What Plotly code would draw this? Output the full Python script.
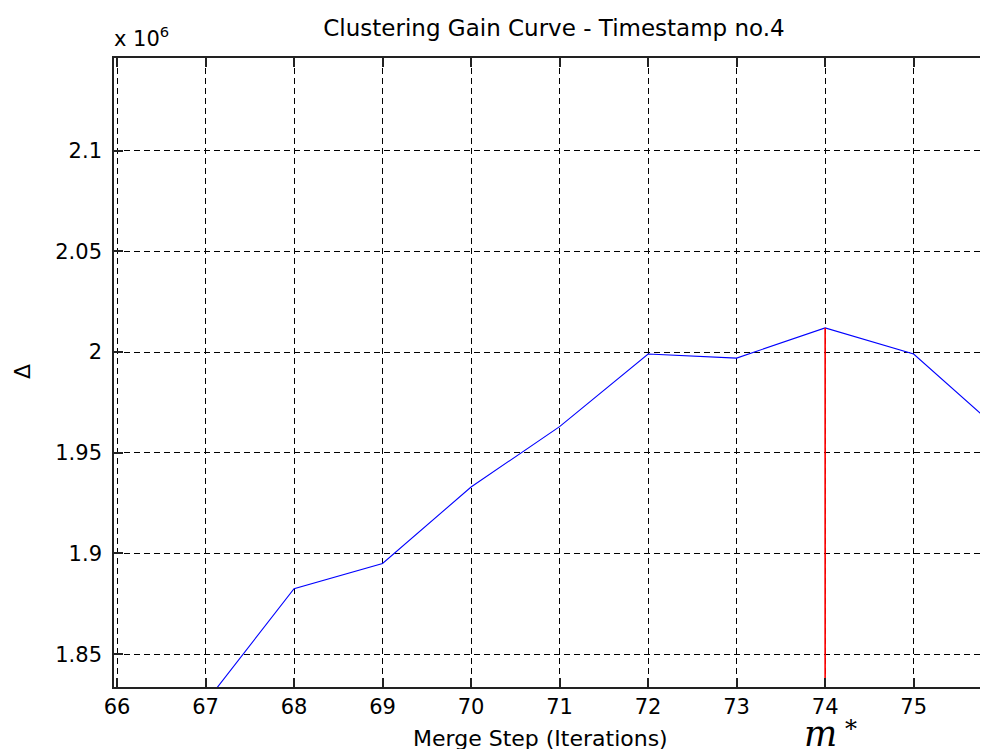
import plotly.graph_objects as go

steps = [67, 68, 69, 70, 71, 72, 73, 74, 75, 76]
gain = [1.826, 1.8825, 1.895, 1.933, 1.963, 1.999, 1.997, 2.012, 1.999, 1.960]  # x 10^6
best_step = 74
best_gain = 2.012
x_ticks = [66, 67, 68, 69, 70, 71, 72, 73, 74, 75]
y_ticks = [1.85, 1.9, 1.95, 2.0, 2.05, 2.1]
y_tick_text = ["1.85", "1.9", "1.95", "2", "2.05", "2.1"]

x_range = [65.966, 75.84]
y_range = [1.8337, 2.146]

font = "DejaVu Sans, Arial, sans-serif"
W, H = 980, 741
L, T, B = 106, 50, 62

fig = go.Figure()
fig.add_trace(go.Scatter(x=steps, y=gain, mode="lines",
                         line=dict(color="#0000ff", width=1.1), showlegend=False))
fig.add_trace(go.Scatter(x=[best_step, best_step], y=[1.80, best_gain], mode="lines",
                         line=dict(color="#ff0000", width=1.6), showlegend=False))
fig.add_trace(go.Scatter(x=[best_step], y=[best_gain], xaxis="x2", mode="markers",
                         marker=dict(opacity=0), showlegend=False, hoverinfo="skip"))

axis_common = dict(showline=True, linecolor="#222222", linewidth=1.6,
                   ticks="inside", ticklen=9, tickcolor="#222222", tickwidth=1.6,
                   showgrid=True, gridcolor="black", gridwidth=1.2, griddash="6px,4px",
                   zeroline=False,
                   tickfont=dict(family=font, size=21, color="black"))

fig.update_layout(
    width=W, height=H,
    margin=dict(l=L, r=0, t=T, b=B),
    paper_bgcolor="white", plot_bgcolor="white",
    title=dict(text="Clustering Gain Curve - Timestamp no.4", xref="container",
               x=546 / W, xanchor="center", y=1 - 20 / H, yanchor="middle",
               font=dict(family=font, size=23, color="black")),
    xaxis=dict(range=x_range, tickvals=x_ticks, ticktext=[str(v) for v in x_ticks],
               ticklabelstandoff=0, **axis_common),
    xaxis2=dict(range=x_range, overlaying="x", side="top", tickvals=x_ticks,
                showticklabels=False, showline=True, linecolor="#222222", linewidth=1.6,
                ticks="inside", ticklen=9, tickcolor="#222222", tickwidth=1.6,
                showgrid=False, zeroline=False),
    yaxis=dict(range=y_range, tickvals=y_ticks, ticktext=y_tick_text,
               ticklabelstandoff=6, **axis_common),
    annotations=[
        dict(text="x 10<sup>6</sup>", xref="paper", yref="paper", x=0, y=1, xanchor="left",
             yanchor="bottom", yshift=5, xshift=-2, showarrow=False,
             font=dict(family=font, size=21, color="black")),
        dict(text="Δ", xref="paper", yref="paper", x=0, y=(687 - 372) / 629,
             xanchor="center", yanchor="middle", xshift=-(114 - 22), textangle=-90,
             showarrow=False, font=dict(family=font, size=22, color="black")),
        dict(text="Merge Step (Iterations)", xref="paper", yref="paper",
             x=(540 - 114) / 874, y=0, yanchor="top", yshift=-37, showarrow=False,
             font=dict(family=font, size=22, color="black")),
        dict(text="<i>m</i>", xref="x", yref="paper", x=best_step, y=0,
             xanchor="center", yanchor="top", yshift=-25, xshift=-5, showarrow=False,
             font=dict(family="DejaVu Serif, serif", size=35, color="black")),
        dict(text="*", xref="x", yref="paper", x=best_step, y=0,
             xanchor="center", yanchor="middle", yshift=-(726 - 687) - 3, xshift=853 - 827,
             showarrow=False, font=dict(family="DejaVu Serif, serif", size=24, color="black")),
    ],
)

fig.write_html("out.html")
